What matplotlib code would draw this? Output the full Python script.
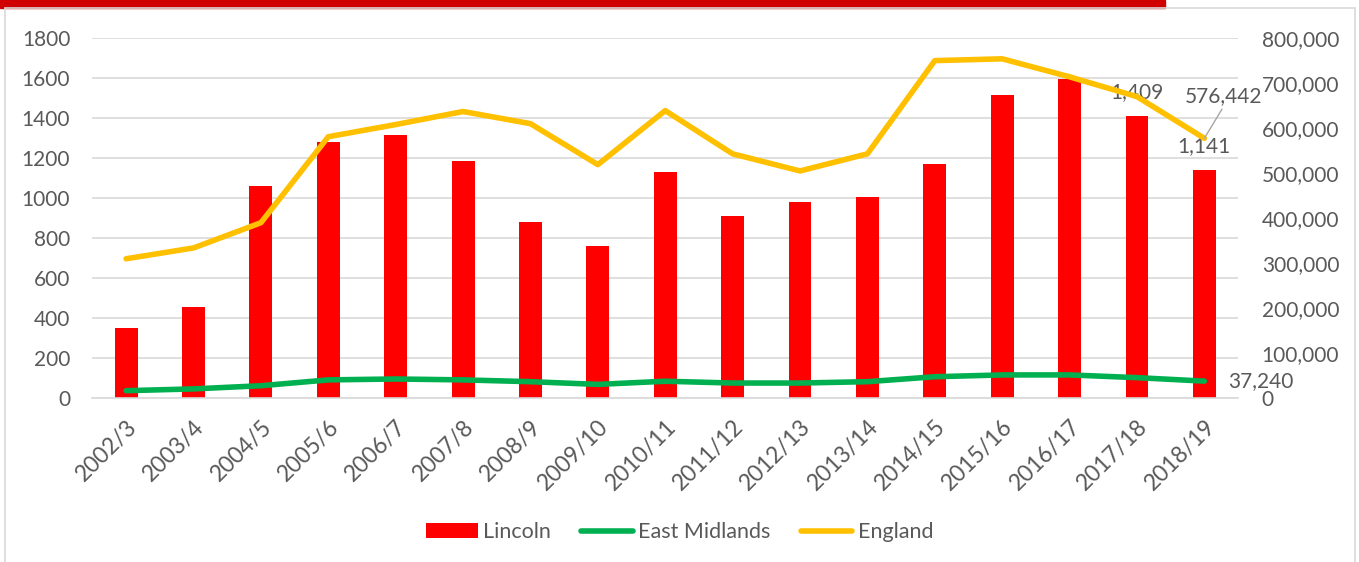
import numpy as np
import matplotlib.pyplot as plt
from matplotlib.patches import Rectangle
from matplotlib.ticker import FuncFormatter

plt.rcParams['font.family'] = ['Lato', 'DejaVu Sans']

years = ["2002/3", "2003/4", "2004/5", "2005/6", "2006/7", "2007/8", "2008/9", "2009/10",
         "2010/11", "2011/12", "2012/13", "2013/14", "2014/15", "2015/16", "2016/17",
         "2017/18", "2018/19"]
lincoln = [350, 455, 1060, 1280, 1315, 1185, 880, 760, 1130, 910, 980, 1005, 1170,
           1515, 1595, 1409, 1141]
east_midlands = [16000, 20000, 27000, 40000, 42000, 40000, 36000, 30000, 37000, 33000,
                 33000, 36000, 47000, 51000, 51000, 45000, 37240]
england = [309000, 333000, 389000, 580000, 607000, 636000, 609000, 518000, 638000,
           542000, 504000, 542000, 749000, 753000, 713000, 669000, 576442]

grey = "#595959"
x = np.arange(len(years))

fig = plt.figure(figsize=(13.59, 5.62), dpi=100)
# red band at the top and light frame
fig.patches.append(Rectangle((0, 0.986), 0.857, 0.014, transform=fig.transFigure,
                             color="#d00000", zorder=0))
fig.patches.append(Rectangle((0.004, -0.01), 0.993, 0.996, transform=fig.transFigure,
                             fill=False, edgecolor="#d9d9d9", linewidth=1.2, zorder=0))

ax = fig.add_axes([0.068, 0.292, 0.843, 0.641])
ax.bar(x, lincoln, width=0.34, color="#ff0000", label="Lincoln", zorder=2)
ax.set_ylim(0, 1800)
ax.set_yticks(range(0, 1801, 200))
ax.set_xlim(-0.5, len(years) - 0.5)
ax.set_xticks(x)
ax.set_xticklabels(years, rotation=45, ha="right", va="top", rotation_mode="anchor")
ax.grid(axis="y", color="#d9d9d9", linewidth=1.2, zorder=0)
ax.set_axisbelow(True)
for s in ax.spines.values():
    s.set_visible(False)
ax.spines["bottom"].set_visible(True)
ax.spines["bottom"].set_color("#d9d9d9")
ax.spines["bottom"].set_linewidth(1.2)
ax.tick_params(axis="both", length=0, colors=grey, labelsize=15)
ax.tick_params(axis="y", pad=16)
ax.tick_params(axis="x", pad=13, labelsize=16.5)

ax2 = ax.twinx()
ax2.plot(x, east_midlands, color="#00b050", linewidth=4, label="East Midlands",
         solid_capstyle="round", zorder=3)
ax2.plot(x, england, color="#ffc000", linewidth=4, label="England",
         solid_capstyle="round", zorder=3)
ax2.set_ylim(0, 800000)
ax2.set_yticks(range(0, 800001, 100000))
ax2.yaxis.set_major_formatter(FuncFormatter(lambda v, p: f"{int(v):,}"))
for s in ax2.spines.values():
    s.set_visible(False)
ax2.tick_params(axis="y", length=0, colors=grey, labelsize=15, pad=17)

# data labels
ax.annotate(f"{lincoln[-2]:,}", (x[-2], lincoln[-2]), xytext=(0, 10),
            textcoords="offset points", ha="center", va="bottom", fontsize=15, color=grey)
ax.annotate(f"{lincoln[-1]:,}", (x[-1], lincoln[-1]), xytext=(0, 10),
            textcoords="offset points", ha="center", va="bottom", fontsize=15, color=grey)
ax2.annotate(f"{england[-1]:,}", (x[-1], england[-1]), xytext=(-14, 23),
             textcoords="offset points", ha="left", va="bottom", fontsize=15, color=grey,
             arrowprops=dict(arrowstyle="-", color="#a6a6a6", lw=1, shrinkA=0, shrinkB=0,
                             relpos=(0.5, 0)))
ax2.annotate(f"{east_midlands[-1]:,}", (x[-1], east_midlands[-1]), xytext=(17, 0),
             textcoords="offset points", ha="left", va="center", fontsize=15, color=grey)

h1, l1 = ax.get_legend_handles_labels()
h2, l2 = ax2.get_legend_handles_labels()
fig.legend(h1 + h2, l1 + l2, loc="center", bbox_to_anchor=(0.5, 0.053), ncol=3,
           frameon=False, fontsize=15.5, labelcolor=grey, handlelength=2.4,
           handletextpad=0.25, columnspacing=1.4)

fig.savefig("out.png", dpi=100)
